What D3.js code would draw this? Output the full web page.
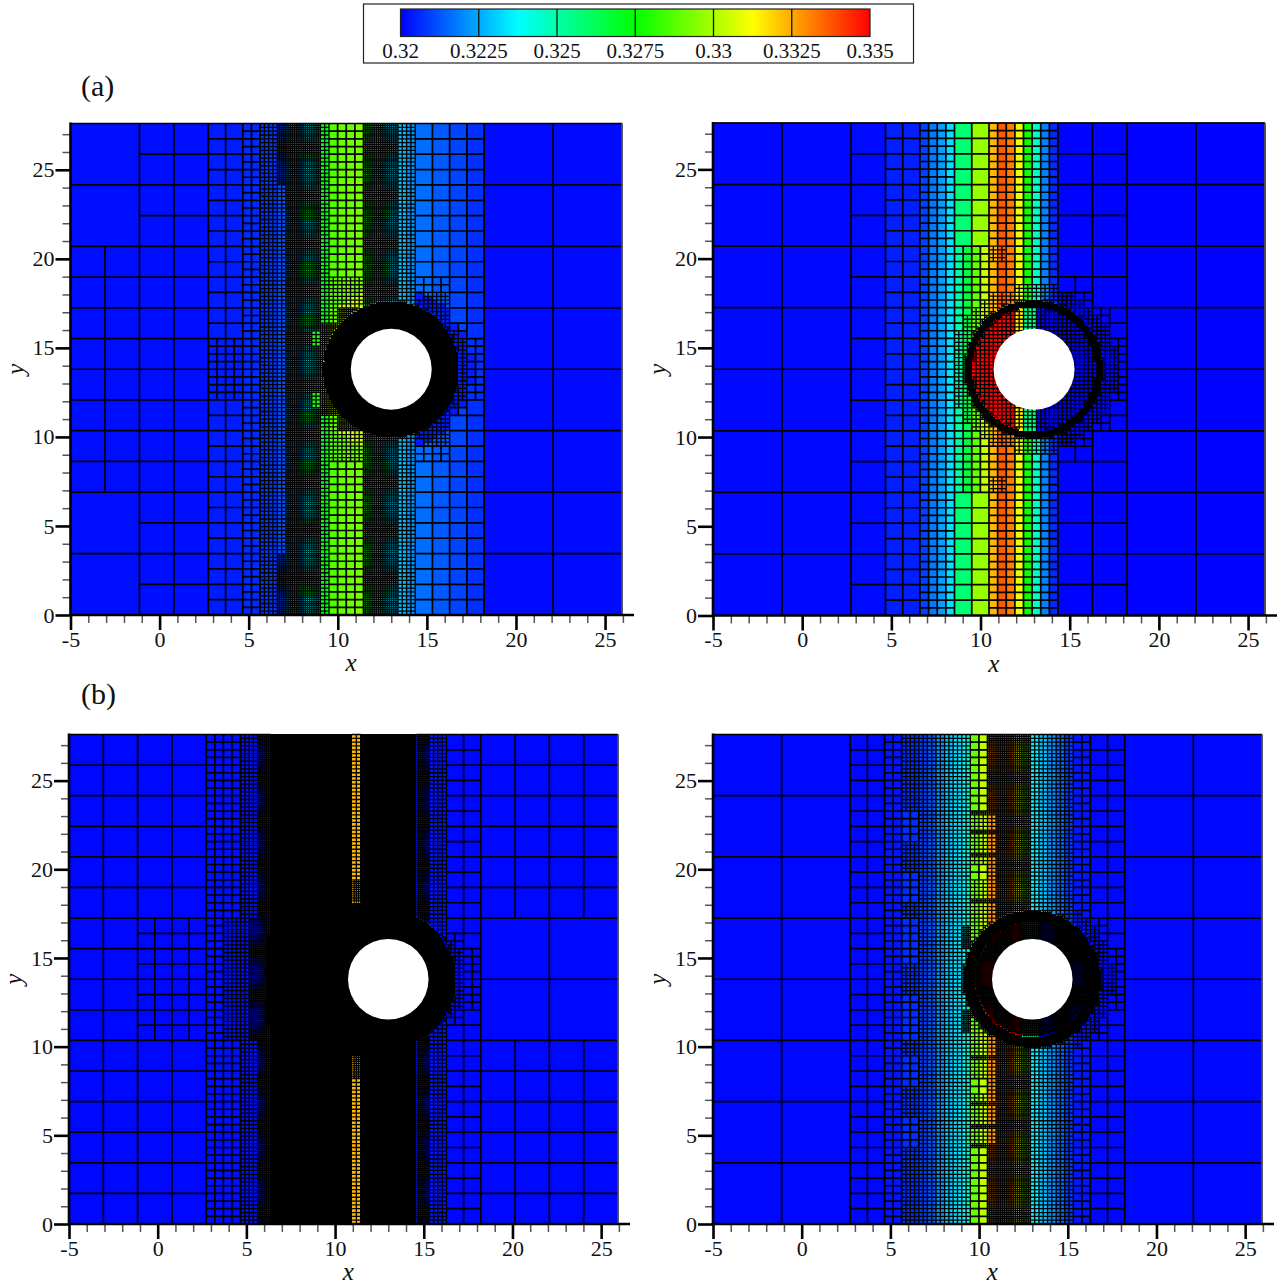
<!DOCTYPE html>
<html>
<head>
  <meta charset="UTF-8">
  <title>Adaptive mesh panels</title>
  <style>
    body{ margin:0; background:#fff; }
    svg{ display:block; }
    text{ font-family:"Liberation Serif",serif; fill:#111; }
  </style>
</head>
<body>
<svg></svg>
<script src="https://d3js.org/d3.v7.min.js"></script>
<script>

let width = 1281, height = 1285;

// colour bar
const legendTicks = [0.32, 0.3225, 0.325, 0.3275, 0.33, 0.3325, 0.335];
const legendLabels = ["0.32", "0.3225", "0.325", "0.3275", "0.33", "0.3325", "0.335"];
const rainbowStops = [0.32, 0.32375, 0.3275, 0.33125, 0.335];
const rainbowColors = ["#0000ff", "#00ffff", "#00ff00", "#ffff00", "#ff0000"];

const xMajor = [-5, 0, 5, 10, 15, 20, 25];
const yMajor = [0, 5, 10, 15, 20, 25];

// grid is 128 x 128 units over the domain, d = distance from the cylinder row
// zones: [u0, u1, d0, d1, refinement level]
const zonesA1 = [[0,16,0,32,1],[16,32,0,64,1],[32,40,0,64,2],[40,44,0,64,3],[44,50,0,64,4],[48,50,48,64,5],
  [50,56,0,64,5],[56,58,10,64,5],[56,58,0,6,5],[56,58,6,10,4],[58,60,12,64,4],[58,60,0,12,5],[60,68,24,64,3],
  [60,68,16,24,4],[60,62,12,16,4],[60,62,0,12,5],[62,68,0,16,5],[68,76,0,64,5],[76,80,0,64,4],[80,96,0,64,2],
  [32,40,0,8,3],[80,88,0,24,3],[88,92,0,8,4],[92,96,0,8,3],[82,88,8,20,4]];
const zonesA2 = [[32,40,0,64,1],[40,48,0,64,2],[48,56,0,64,3],[56,64,32,64,2],[56,64,0,32,3],[64,80,0,64,3],[80,96,0,64,1],
  [64,68,28,32,4],[64,80,0,20,4],[80,88,0,16,4],[88,96,8,16,2],[88,92,0,8,4],[92,96,0,8,3],[56,60,0,4,4],[60,64,0,8,4],[62,64,8,14,4]];
const zonesB1 = [[0,32,0,64,1],[32,40,0,64,3],[40,44,0,64,4],[44,47,0,64,5],[47,66,0,64,6],[68,81,0,64,6],[66,68,0,20,6],
  [66,68,20,26,5],[66,68,26,64,4],[81,84,0,64,5],[84,88,0,64,4],[88,96,0,64,2],[96,128,16,64,1],
  [16,32,0,16,2],[36,42,0,16,4],[42,47,0,16,5],[46,47,0,12,6],[88,92,0,8,4],[92,96,0,8,3]];
const zonesB2 = [[32,40,0,64,2],[40,44,0,64,3],[48,60,0,64,4],[44,48,44,64,4],[44,48,36,44,3],[44,48,28,36,4],[44,48,20,28,3],
  [44,48,16,20,4],[44,48,4,16,3],[44,48,0,4,4],[60,64,44,64,3],[60,64,30,44,4],[60,64,26,30,3],[60,64,0,26,4],
  [64,66,44,64,5],[64,66,0,44,4],[66,74,0,64,5],[60,66,43,44,5],[60,66,38,39,5],[60,66,32,33,5],[60,66,20,21,5],
  [74,84,0,64,4],[84,88,0,64,3],[88,96,0,64,2],[84,88,10,16,4],[88,92,0,8,4],[92,96,0,8,3],[58,60,8,14,5]];

// rings around the cylinder: [r0, r1, level]
const ringsA1 = [[0, 3.75, 6]];
const ringsA2 = [[3.55, 3.8, 6], [0, 4.4, 4]];
const ringsB1 = [[0, 3.75, 6]];
const ringsB2 = [[3.3, 3.8, 6], [0, 3.3, 5], [3.8, 4.3, 4]];

// column values, step function of u
const edgesA1 = [32,40,44,48,50,54,58,60,62,64,66,68,70,72,74,76,78,80,84,88,92,96];
const valuesA1 = [.3202,.3204,.3206,.3208,.3212,.3225,.3238,.3272,.3287,.329,.3291,.3293,.328,.3245,.3235,.3232,.3228,.3222,.3216,.3213,.321,.3207,.32015];
const edgesA2 = [32,40,48,50,52,54,56,58,60,62,64,66,68,70,72,74,76,78,80];
const valuesA2 = [.32012,.32015,.32044,.32096,.3218,.32235,.32331,.32507,.32655,.32897,.33044,.3323,.33368,.33316,.33095,.32772,.32465,.32191,.32059,.32005];
const edgesB1 = [32,44,66,68,81,88];
const valuesB1 = [.3201,.3202,.3204,.33228,.3204,.3203,.3201];
const edgesB2 = [40,44,48,50,52,54,56,58,59,60,62,64,66,68,70,72,74,76,78,80,82,84,88];
const valuesB2 = [.3201,.3203,.32066,.3209,.3213,.3222,.3229,.3233,.3236,.3247,.32897,.33029,.3328,.33368,.3331,.33125,.329,.3235,.3229,.3222,.32147,.32088,.3203,.3201];

// values close to the cylinder, null keeps the column value
const nearRadius = [4.6, 3.6, 0, 3.4];
const nearEdgesA1 = [50,58,68,80];
const nearValuesA1 = [null,null,.3305,null,.3204];
const nearEdgesA2 = [70.5,72,75];
const nearValuesA2 = [.335,.3315,.3255,.32];
const nearEdgesB2 = [72,76];
const nearValuesB2 = [.335,.3255,.32];

// small boxes with their own value: [u0, u1, d0, d1, value]
const spotsA1 = [[56,58,6,10,.3278],[58,60,12,64,.3272],[60,62,12,16,.3289],
  [53,58,24,28,.3268],[53,58,39,43,.3268],[53,58,55,59,.3268],[53,58,11,14,.3268],
  [70,74,24,28,.3262],[70,74,39,43,.3262],[70,74,55,59,.3262]];

const panels = [
  {box:[70.5,622,615,123.5], zones:zonesA1, rings:ringsA1, edges:edgesA1, values:valuesA1, nearR:nearRadius[0], nearE:nearEdgesA1, nearV:nearValuesA1, spots:spotsA1, dimR:0},
  {box:[713,1265,615.5,123], zones:zonesA2, rings:ringsA2, edges:edgesA2, values:valuesA2, nearR:nearRadius[1], nearE:nearEdgesA2, nearV:nearValuesA2, spots:[], dimR:0},
  {box:[69,618,1224,734.5], zones:zonesB1, rings:ringsB1, edges:edgesB1, values:valuesB1, nearR:nearRadius[2], nearE:[0], nearV:[null,null], spots:[], dimR:0},
  {box:[713,1262,1224,734.5], zones:zonesB2, rings:ringsB2, edges:edgesB2, values:valuesB2, nearR:nearRadius[3], nearE:nearEdgesB2, nearV:nearValuesB2, spots:[], dimR:3.4}
];

const xMin = -5, xMax = 25.95, yMax = 27.6;
const cx = 13, cy = 13.8, cylR = 2.27;
const uToX = u => xMin + u * (xMax - xMin) / 128;
const vToY = v => v * yMax / 128;

let svg = d3.select("svg").attr("width", width).attr("height", height).attr("viewBox", "0 0 " + width + " " + height);

const color = d3.scaleLinear().domain(rainbowStops).range(rainbowColors);

function cellRadius(c){
    return Math.hypot(uToX(c.u + c.s / 2) - cx, vToY(c.v + c.s / 2) - cy);
}

function buildCells(p){
    const cells = [];
    const target = (u, v, s) => {
        const d0 = Math.max(0, v - 64, 64 - (v + s));
        const d1 = Math.max(Math.abs(v - 64), Math.abs(v + s - 64));
        let lev = 0;
        p.zones.forEach(z => {
            if (u < z[1] && u + s > z[0] && d0 < z[3] && d1 > z[2]) lev = Math.max(lev, z[4]);
        });
        const x0 = uToX(u), x1 = uToX(u + s), y0 = vToY(v), y1 = vToY(v + s);
        const nx = Math.max(x0 - cx, 0, cx - x1), ny = Math.max(y0 - cy, 0, cy - y1);
        const fx = Math.max(Math.abs(x0 - cx), Math.abs(x1 - cx)), fy = Math.max(Math.abs(y0 - cy), Math.abs(y1 - cy));
        const rMin = Math.hypot(nx, ny), rMax = Math.hypot(fx, fy);
        p.rings.forEach(r => {
            if (rMin < r[1] && rMax > r[0]) lev = Math.max(lev, r[2]);
        });
        return lev;
    };
    const split = (u, v, s, lev) => {
        if (target(u, v, s) > lev) {
            const h = s / 2;
            split(u, v, h, lev + 1); split(u + h, v, h, lev + 1);
            split(u, v + h, h, lev + 1); split(u + h, v + h, h, lev + 1);
        } else {
            cells.push({u: u, v: v, s: s, lev: lev});
        }
    };
    for (let i = 0; i < 8; i++) for (let j = 0; j < 8; j++) split(i * 16, j * 16, 16, 0);
    return cells;
}

function cellValue(p, c, col, near){
    const um = c.u + c.s / 2, vm = c.v + c.s / 2;
    const d = Math.abs(vm - 64);
    for (const sp of p.spots) {
        if (um > sp[0] && um < sp[1] && d > sp[2] && d < sp[3]) return sp[4];
    }
    if (cellRadius(c) < p.nearR && near(um) !== null) return near(um);
    if (c.s <= 0.5) return col(um);
    return d3.mean(d3.range(c.u + 0.25, c.u + c.s, 0.5), col);
}

function lineWidth(key){
    if (key < 4) return 1.7;
    if (key < 6) return 1.3;
    return 1.65;
}

function drawPanel(p){
    const x = d3.scaleLinear().domain([xMin, xMax]).range([p.box[0], p.box[1]]);
    const y = d3.scaleLinear().domain([0, yMax]).range([p.box[2], p.box[3]]);
    const col = d3.scaleThreshold().domain(p.edges).range(p.values);
    const near = d3.scaleThreshold().domain(p.nearE).range(p.nearV);

    const cells = buildCells(p).filter(c => cellRadius(c) > cylR - 0.3);

    // fills go in one path per colour, cells this fine are only line so they go in black
    const byColor = d3.rollups(cells, v => {
        const pth = d3.path();
        v.forEach(c => {
            pth.rect(x(uToX(c.u)), y(vToY(c.v + c.s)), x(uToX(c.u + c.s)) - x(uToX(c.u)), y(vToY(c.v)) - y(vToY(c.v + c.s)));
        });
        return pth.toString();
    }, c => c.lev >= 6 ? "#000" : color(cellValue(p, c, col, near)));

    const g = svg.append("g");
    g.selectAll("path.cell")
        .data(byColor)
        .enter().append("path")
        .attr("class", "cell")
        .attr("shape-rendering", "crispEdges")
        .attr("fill", d => d[0])
        .attr("d", d => d[1]);

    // top and right edge of each cell is enough, neighbours give the rest
    // finer cells get a thinner line or nothing of them would show
    const byLevel = d3.rollups(cells.filter(c => c.lev < 6), v => {
        const lines = d3.path();
        v.forEach(c => {
            const x1 = x(uToX(c.u + c.s)), y1 = y(vToY(c.v + c.s));
            lines.moveTo(x(uToX(c.u)), y1);
            lines.lineTo(x1, y1);
            lines.moveTo(x1, y1);
            lines.lineTo(x1, y(vToY(c.v)));
        });
        return lines.toString();
    }, c => (c.lev == 5 && cellRadius(c) < p.dimR) ? 6 : c.lev).sort((a, b) => a[0] - b[0]);

    g.selectAll("path.mesh")
        .data(byLevel)
        .enter().append("path")
        .attr("class", "mesh")
        .attr("d", d => d[1])
        .attr("fill", "none")
        .attr("stroke", "#000")
        .attr("stroke-width", d => lineWidth(d[0]));

    g.append("ellipse")
        .attr("cx", x(cx)).attr("cy", y(cy))
        .attr("rx", x(cx + cylR) - x(cx)).attr("ry", y(cy) - y(cy + cylR))
        .attr("fill", "#fff");

    // frame
    g.append("line").attr("x1", x(xMin)).attr("x2", x(xMax)).attr("y1", y(yMax)).attr("y2", y(yMax)).attr("stroke", "#000").attr("stroke-width", 1.2);
    g.append("line").attr("x1", x(xMax)).attr("x2", x(xMax)).attr("y1", y(yMax)).attr("y2", y(0)).attr("stroke", "#777").attr("stroke-width", 1.2);

    // axes
    const xMinor = d3.range(-5, 27).filter(d => !xMajor.includes(d));
    const yMinor = d3.range(0, 28).filter(d => !yMajor.includes(d));
    const ax = svg.append("g").attr("transform", "translate(0," + p.box[2] + ")");
    const ay = svg.append("g").attr("transform", "translate(" + p.box[0] + ",0)");

    ax.append("g").call(d3.axisBottom(x).tickValues(xMinor).tickSize(8).tickFormat(""))
        .call(s => s.select(".domain").remove())
        .selectAll("line").attr("stroke", "#555").attr("stroke-width", 1.5);
    ay.append("g").call(d3.axisLeft(y).tickValues(yMinor).tickSize(8).tickFormat(""))
        .call(s => s.select(".domain").remove())
        .selectAll("line").attr("stroke", "#555").attr("stroke-width", 1.5);

    ax.append("g").call(d3.axisBottom(x).tickValues(xMajor).tickSize(15).tickPadding(1).tickFormat(d => d))
        .call(s => s.select(".domain").remove())
        .call(s => s.selectAll("line").attr("stroke", "#000").attr("stroke-width", 2.6))
        .call(s => s.selectAll("text").attr("font-size", 22).attr("font-family", "Liberation Serif").attr("fill", "#111"));
    ay.append("g").call(d3.axisLeft(y).tickValues(yMajor).tickSize(15).tickPadding(1).tickFormat(d => d))
        .call(s => s.select(".domain").remove())
        .call(s => s.selectAll("line").attr("stroke", "#000").attr("stroke-width", 2.6))
        .call(s => s.selectAll("text").attr("font-size", 22).attr("font-family", "Liberation Serif").attr("fill", "#111"));

    ax.append("line").attr("x1", p.box[0] - 1.3).attr("x2", x(xMax) + 12).attr("stroke", "#000").attr("stroke-width", 2.6);
    ay.append("line").attr("y1", y(yMax) - 1).attr("y2", y(0) + 1).attr("stroke", "#000").attr("stroke-width", 2.6);

    ax.append("text").attr("x", x(10.75)).attr("y", 56)
        .attr("text-anchor", "middle").attr("font-size", 25).attr("font-style", "italic").text("x");
    svg.append("text")
        .attr("transform", "translate(" + (p.box[0] - 47) + "," + y(13.8) + ") rotate(-90)")
        .attr("text-anchor", "middle").attr("font-size", 25).attr("font-style", "italic").text("y");
}

panels.forEach(drawPanel);

// legend
const lx = d3.scaleLinear().domain([legendTicks[0], legendTicks[6]]).range([400.5, 870]);
const grad = svg.append("defs").append("linearGradient").attr("id", "rainbow");
grad.selectAll("stop").data(rainbowStops).enter().append("stop")
    .attr("offset", d => (d - rainbowStops[0]) / (rainbowStops[4] - rainbowStops[0]))
    .attr("stop-color", d => color(d));

const leg = svg.append("g");
leg.append("rect").attr("x", 363.5).attr("y", 4).attr("width", 550).attr("height", 59)
    .attr("fill", "#fff").attr("stroke", "#222").attr("stroke-width", 1.2);
leg.append("rect").attr("x", lx(0.32)).attr("y", 9).attr("width", lx(0.335) - lx(0.32)).attr("height", 27.5)
    .attr("fill", "url(#rainbow)").attr("stroke", "#222").attr("stroke-width", 1.2);
leg.selectAll("line").data(legendTicks.slice(1, 6)).enter().append("line")
    .attr("x1", lx).attr("x2", lx).attr("y1", 9).attr("y2", 36.5)
    .attr("stroke", "#111").attr("stroke-width", 1.3);
leg.selectAll("text").data(legendTicks).enter().append("text")
    .attr("x", lx).attr("y", 58).attr("text-anchor", "middle").attr("font-size", 21)
    .text((d, i) => legendLabels[i]);

svg.append("text").attr("x", 81).attr("y", 96).attr("font-size", 30).text("(a)");
svg.append("text").attr("x", 81).attr("y", 704).attr("font-size", 30).text("(b)");

</script>
</body>
</html>
